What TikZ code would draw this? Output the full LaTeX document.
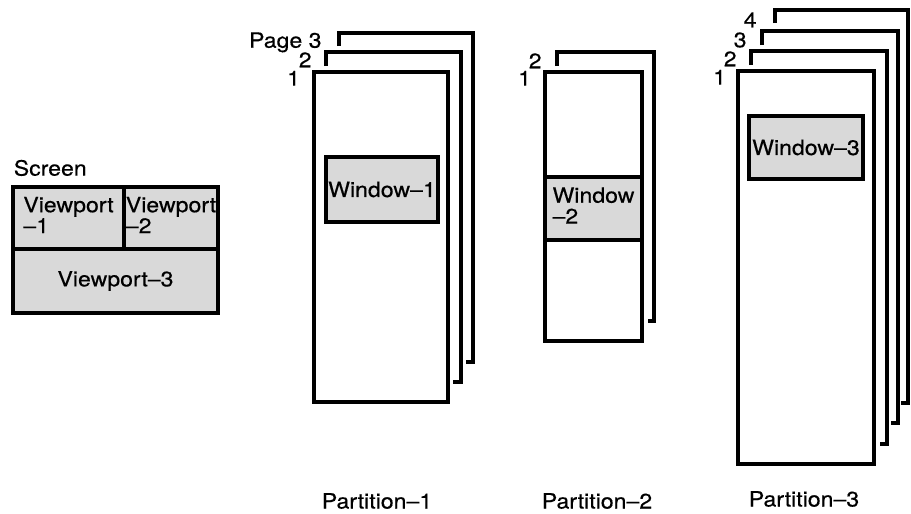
\documentclass[tikz,border=0pt]{standalone}
\usepackage{fontspec}
\setmainfont{TeX Gyre Heros}[FakeStretch=1.1, FakeBold=0.4]
\usetikzlibrary{positioning}

\begin{document}
\begin{tikzpicture}[
    x=0.5pt, y=-0.5pt,
    sheet/.style={rectangle, draw, line width=1.6pt, inner sep=0pt},
    shaded/.style={sheet, fill=gray!30, font=\fontsize{10.5}{10}\selectfont},
    backsheet/.style={line width=1.6pt},
    pagenum/.style={inner sep=0pt, anchor=north east, font=\fontsize{10.5}{10}\selectfont},
    caption/.style={font=\fontsize{10.5}{12}\selectfont}
]
\useasboundingbox (0,0) rectangle (911,514);

% ===== SCREEN =====
\node[shaded, minimum width=55.5pt, minimum height=31pt] (vp1) at (68.5,218) {\begin{tabular}{@{}l@{}}Viewport\\–1\end{tabular}};
\node[shaded, minimum width=47pt, minimum height=31pt] (vp2) at (171,218) {\begin{tabular}{@{}l@{}}Viewport\\–2\end{tabular}};
\node[shaded, minimum width=102.5pt, minimum height=32pt] (vp3) at (115.5,281) {Viewport–3};
\node[pagenum, anchor=south west] (screen) at ([xshift=1pt, yshift=4.5pt]vp1.north west) {Screen};

% ===== PARTITION-1 =====
\draw[backsheet] (339,46) |- (473,33) |- (466,362);
\draw[backsheet] (326,66) |- (461,52) |- (453,382);
\node[sheet, minimum width=67pt, minimum height=165pt] (p1s1) at (381,237) {};
\node[shaded, minimum width=56pt, minimum height=32.5pt] (win1) at (382,189.5) {Window–1};
\node[pagenum, left=6pt of p1s1.north west, anchor=north east] (p1n1) {1};
\node[pagenum] (p1n2) at (312,52) {2};
\node[pagenum] (p1n3) at (322,32) {Page 3};
\node[caption] (part1) at (377,501) {Partition–1};

% ===== PARTITION-2 =====
\draw[backsheet] (557,66) |- (654,52) |- (648,321);
\node[sheet, minimum width=48.5pt, minimum height=134.5pt] (p2s1) at (593.5,206.5) {};
\node[shaded, minimum width=48.5pt, minimum height=31.5pt] (win2) at (593.5,208.5) {\begin{tabular}{@{}l@{}}Window\\–2\end{tabular}};
\node[pagenum, left=6pt of p2s1.north west, anchor=north east] (p2n1) {1};
\node[pagenum] (p2n2) at (542,53) {2};
\node[caption] (part2) at (597,501) {Partition–2};

% ===== PARTITION-3 =====
\draw[backsheet] (775,23) |- (908,10) |- (901,403);
\draw[backsheet] (762,45) |- (898,31) |- (891,423);
\draw[backsheet] (751,65) |- (887,51) |- (880,444);
\node[sheet, minimum width=68pt, minimum height=196.5pt] (p3s1) at (806,267.5) {};
\node[shaded, minimum width=57pt, minimum height=31.5pt] (win3) at (806,147.5) {Window–3};
\node[pagenum, left=5pt of p3s1.north west, anchor=north east] (p3n1) {1};
\node[pagenum] (p3n2) at (737,51) {2};
\node[pagenum] (p3n3) at (747,32) {3};
\node[pagenum] (p3n4) at (757,12) {4};
\node[caption] (part3) at (804,499) {Partition–3};

\end{tikzpicture}
\end{document}
